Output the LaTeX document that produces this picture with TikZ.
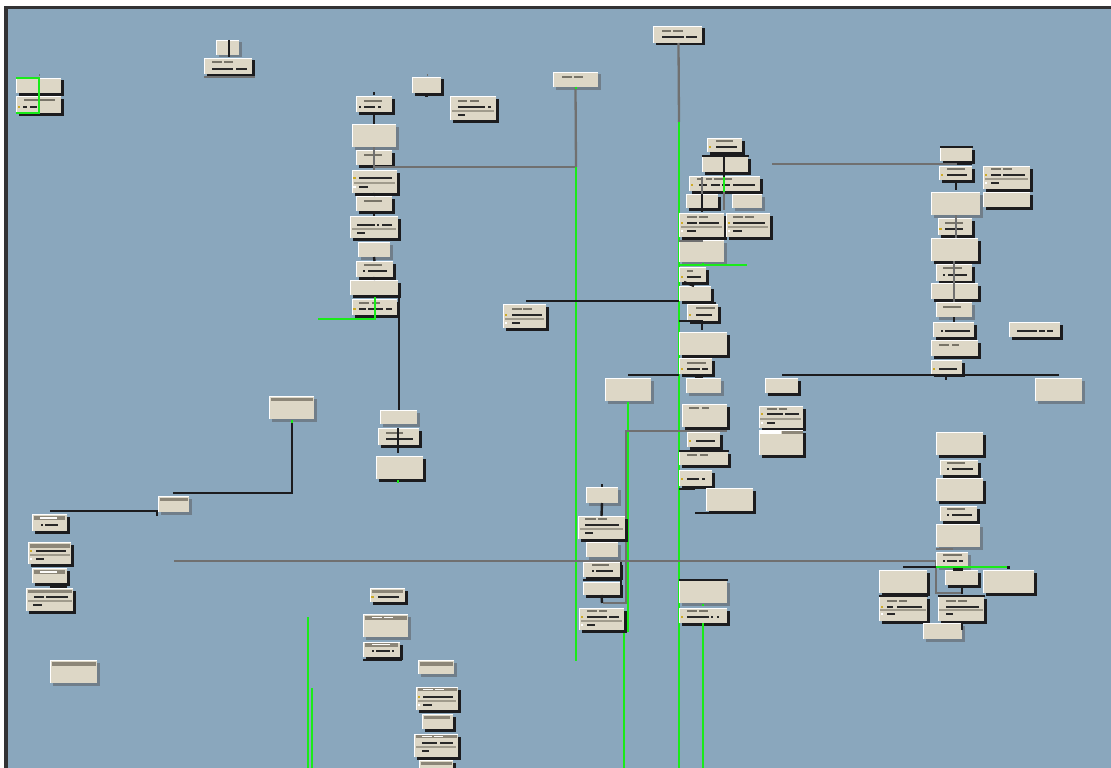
\documentclass[tikz,border=0pt]{standalone}
\definecolor{bgc}{RGB}{138,167,189}
\definecolor{beige}{RGB}{221,215,198}
\definecolor{shk}{RGB}{28,28,30}
\definecolor{shg}{RGB}{112,126,138}
\definecolor{frm}{RGB}{50,50,52}
\definecolor{gbar}{RGB}{120,116,104}
\definecolor{dbar}{RGB}{40,40,40}
\definecolor{lbar}{RGB}{160,155,140}
\definecolor{band}{RGB}{140,134,120}
\definecolor{ydot}{RGB}{205,170,40}
\definecolor{grn}{RGB}{25,235,25}
\definecolor{gln}{RGB}{112,112,112}
\tikzset{
  bxs/.style={fill=beige, draw=none, inner sep=0pt, outer sep=0pt},
  gl/.style={draw=gln, line width=2.3pt},
  kl/.style={draw=shk, line width=2.4pt},
  gr/.style={draw=grn, line width=2.4pt},
}
% box: [shadow]{name}{x1}{y1}{x2}{y2}
\newcommand{\Bx}[6][shk]{%
  \fill[#1] (#3+2.5,#4+2.5) rectangle (#5+2.5,#6+2.5);
  \node[bxs, anchor=north west, minimum width={#5-#3}, minimum height={#6-#4}] (#2) at (#3,#4) {};
  \draw[white, line width=1.3pt] (#3+0.6,#6) -- (#3+0.6,#4+0.6) -- (#5,#4+0.6);
}
\newcommand{\Gb}[3]{\fill[gbar] (#1,#3-1.2) rectangle (#2,#3+1.2);}
\newcommand{\Db}[3]{\fill[dbar] (#1,#3-1.4) rectangle (#2,#3+1.4);}
\newcommand{\Lb}[3]{\fill[lbar] (#1,#3-0.9) rectangle (#2,#3+0.9);}
\newcommand{\Yd}[2]{\fill[ydot] (#1-1.1,#2-1.1) rectangle (#1+1.1,#2+1.1);}
\newcommand{\Wd}[2]{\fill[white] (#1-1.1,#2-1.1) rectangle (#1+1.1,#2+1.1);}
\newcommand{\Bd}[4]{\fill[band] (#1,#2) rectangle (#3,#4);}
\newcommand{\Wb}[3]{\fill[white!90!beige] (#1,#3-0.9) rectangle (#2,#3+0.9);}
\begin{document}
\begin{tikzpicture}[x=1pt,y=-1pt]
\useasboundingbox (0,0) rectangle (1111,768);
\fill[white] (0,0) rectangle (1111,768);
\fill[bgc] (5,7) rectangle (1111,768);
\fill[frm] (4,6) rectangle (1111,9);
\fill[frm] (4,6) rectangle (8,768);

% ---------- top-left group
\Bx{A1}{16}{78}{61}{93}
\Bx{A2}{16}{96}{61}{113}
\Gb{24}{55}{100}\Yd{19}{107}\Db{23}{27}{107}\Db{30}{37}{107}
\fill[gln] (38.5,74) rectangle (40,76);
\draw[gr] (A1.north west) -- (39,78) -- (39,113) -- (A2.south west);

\Bx[shg]{B1}{216}{40}{239}{55}
\Bx{B2}{204}{58}{252}{74}
\Gb{212}{222}{62}\Gb{224}{233}{62}\Db{212}{233}{69}\Db{236}{247}{69}
\draw[kl] (229,40) -- (229,57);
\draw[gl] (B2.south west) ++(0,3) -- ++(51,0);

% ---------- column D
\Bx{C1}{412}{77}{441}{93}
\fill[gln] (426.5,74) rectangle (428,76);
\draw[kl] (C1.south) -- ++(0,4);
\Bx{C2}{450}{96}{496}{120}
\Gb{458}{467}{101}\Gb{470}{479}{101}\Db{458}{485}{107}\Db{488}{491}{107}\Lb{452}{494}{111}\Db{458}{465}{115}

\Bx{D1}{356}{96}{392}{112}
\fill[shk] (373,92) rectangle (375,95);
\Gb{364}{382}{101}\Db{359}{361}{107}\Db{364}{375}{107}\Db{378}{381}{107}
\Bx[shg]{D2}{352}{124}{396}{147}
\Bx{D3}{356}{150}{392}{165}
\Gb{364}{382}{155}
\Bx{D4}{352}{170}{397}{193}
\Yd{354.5}{178}\Db{359}{392}{178}\Lb{354}{395}{183}\Wd{354.5}{187}\Db{359}{368}{187}
\Bx{D5}{356}{196}{392}{211}
\Gb{364}{382}{201}
\Bx{D6}{350}{216}{398}{238}
\Db{357}{375}{225}\Db{377}{379}{225}\Db{382}{392}{225}\Lb{352}{396}{229}\Db{357}{365}{233}
\Bx[shg]{D7}{358}{242}{390}{257}
\Bx{D8}{356}{261}{393}{277}
\Gb{364}{382}{265}\Db{363}{365}{271}\Db{368}{387}{271}
\Bx{D9}{350}{280}{398}{295}
\Bx{D10}{352}{299}{397}{315}
\Gb{359}{369}{303}\Gb{372}{380}{303}\Yd{354.5}{309}\Db{359}{366}{309}\Db{368}{383}{309}\Db{386}{392}{309}
\draw[kl] (D1.south) -- (D2.north);
\draw[kl] (D4.south) -- (D5.north);
\draw[kl] (D5.south) -- (D6.north);
\draw[kl] (D7.south) -- (D8.north);
\draw[kl] (D8.south) -- (D9.north);
\draw[gl] (D2.south) -- (374,170);
\draw[kl] (399,283) -- (399,410);
\draw[gr] (375,297) -- (375,319) -- (318,319);

% ---------- E, F
\Bx[shg]{E1}{553}{72}{598}{87}
\Gb{562}{572}{77}\Gb{574}{583}{77}
\Bx{F1}{653}{26}{702}{43}
\Gb{662}{671}{31}\Gb{673}{683}{31}\Db{662}{684}{37}\Db{686}{697}{37}
\coordinate (e1) at (576,167);
\draw[gl] (E1.south) -- (e1);
\draw[gl] (374,167) -- (e1);
\draw[gr] (e1) -- (576,661);
\fill[grn] (575,87) rectangle (577,89);
\draw[gl] (F1.south) ++(1,0) -- (679,122);
\draw[gr] (679,122) -- (679,768);

% ---------- G group
\Bx{G1}{707}{138}{742}{152}
\Gb{716}{733}{141}\Yd{710}{147}\Db{716}{737}{147}
\Bx{G2}{702}{156}{748}{172}
\draw[shk, line width=1.8pt] (702,156) -- (749,156);
\Bx{G3}{689}{176}{760}{191}
\Gb{697}{702}{179}\Gb{706}{712}{179}\Gb{714}{732}{179}\Yd{692}{185}\Db{699}{707}{185}\Db{711}{720}{185}\Db{722}{730}{185}\Db{733}{755}{185}
\Bx{G4}{686}{194}{718}{208}
\Bx[shg]{G5}{732}{194}{762}{208}
\Bx{G6}{679}{213}{724}{237}
\Gb{687}{697}{217}\Gb{699}{708}{217}\Yd{682}{223}\Db{687}{697}{223}\Db{699}{719}{223}\Lb{681}{722}{227}\Wd{682}{231}\Db{687}{696}{231}
\Bx{G7}{726}{213}{770}{237}
\Gb{733}{743}{217}\Gb{745}{754}{217}\Yd{729}{223}\Db{733}{765}{223}\Lb{728}{768}{227}\Wd{729}{231}\Db{733}{742}{231}
\Bx[shg]{G8}{679}{240}{724}{262}
\fill[gln] (679,239.5) rectangle (703,241.5);
\Bx{G9}{679}{267}{706}{282}
\Gb{687}{693}{271}\Yd{682}{277}\Db{687}{701}{277}
\draw[kl] (G1.south) ++(-0.5,0) -- (724,177);
\draw[gr] (724,177) -- (724,192);
\draw[gl] (724,192) -- (724,210);
\draw[gl] (702,177) -- (702,194);
\draw[kl] (702,194) -- (702,212);
\draw[gr] (679,265) -- (747,265);
\fill[grn] (702,263) rectangle (704,265);

% ---------- K column
\Bx{K1}{679}{286}{711}{301}
\Bx{K2}{687}{304}{718}{321}
\Gb{696}{715}{308}\Yd{690}{315}\Db{696}{712}{315}
\Bx{K3}{679}{332}{727}{355}
\Bx{K4}{679}{358}{712}{374}
\Gb{687}{706}{363}\Yd{682}{369}\Db{687}{700}{369}\Db{702}{708}{369}
\Bx[shg]{K5}{686}{378}{721}{393}
\Bx{K6}{682}{404}{727}{427}
\Gb{689}{699}{408}\Gb{702}{709}{408}
\Bx{K7}{687}{432}{720}{447}
\Yd{690}{441}\Db{696}{715}{441}
\Bx{K8}{679}{451}{728}{465}
\draw[shk, line width=1.8pt] (679,451) -- (729,451);
\Gb{687}{697}{455}\Gb{700}{708}{455}
\Bx{K9}{679}{470}{712}{486}
\Yd{682}{479}\Db{687}{699}{479}\Db{702}{705}{479}
\Bx{K10}{706}{488}{753}{511}
\draw[kl] (G9.south) ++(-8.5,0) -- (694,286);
\draw[kl] (702,303) -- (716,303);
\draw[kl] (679,321) -- (702,321) -- (702,330);
\draw[kl] (526,301) -- (679,301);
\draw[kl] (628,375) -- (679,375);
\draw[kl] (695,377) -- (703,377);
\draw[kl] (679,489) -- (695,489);
\draw[kl] (695,513) -- (754,513);

\Bx{J1}{503}{304}{546}{328}
\Gb{512}{522}{309}\Gb{523}{532}{309}\Yd{506}{315}\Db{512}{542}{315}\Lb{505}{544}{319}\Wd{506}{323}\Db{512}{520}{323}

\Bx[shg]{L1}{605}{378}{651}{401}
\draw[gr] (628,402) -- (628,632);
\draw[gr] (624,632) -- (624,768);
\draw[gl] (727,431) -- (626,431) -- (626,603) -- (603,603);

% ---------- M column
\Bx[shg]{M1}{586}{487}{618}{503}
\fill[shk] (601,484) rectangle (603,486.5);
\Bx{M2}{578}{516}{625}{539}
\Gb{585}{596}{519}\Gb{598}{607}{519}\Db{585}{619}{525}\Lb{580}{623}{529}\Db{585}{593}{533}
\Bx[shg]{M3}{586}{542}{618}{557}
\Bx{M4}{583}{562}{620}{577}
\Gb{592}{609}{565}\Db{592}{594}{571}\Db{596}{613}{571}
\Bx{M5}{583}{582}{620}{595}
\Bx{M6}{579}{608}{624}{630}
\Gb{587}{597}{611}\Gb{599}{607}{611}\Yd{582}{617}\Db{587}{607}{617}\Db{609}{619}{617}\Lb{581}{622}{621}\Wd{582}{625}\Db{587}{595}{625}
\draw[kl] (M1.south) -- (M2.north);
\draw[kl] (583,580) -- (621,580);
\draw[kl] (621,562) -- (621,596);
\draw[kl] (M5.south) -- (602,603);

\Bx[shg]{R1}{679}{580}{727}{603}
\draw[shk, line width=1.8pt] (679,580) -- (728,580);
\Bx{R2}{679}{608}{727}{623}
\Gb{687}{697}{611}\Gb{699}{708}{611}\Yd{682}{617}\Db{687}{709}{617}\Db{711}{713}{617}\Db{717}{719}{617}
\fill[grn] (702,604) rectangle (704,606);
\draw[gr] (703,623) -- (703,768);

% ---------- H column
\Bx{H1}{940}{147}{972}{161}
\draw[shk, line width=1.8pt] (940,147) -- (973,147);
\Bx{H2}{939}{166}{972}{180}
\Gb{947}{965}{169}\Yd{942}{175}\Db{947}{967}{175}
\Bx{H16}{983}{166}{1030}{189}
\Gb{991}{1001}{169}\Gb{1003}{1012}{169}\Yd{986}{175}\Db{991}{1001}{175}\Db{1003}{1025}{175}\Lb{985}{1028}{179}\Wd{986}{183}\Db{991}{999}{183}
\Bx{H17}{983}{192}{1030}{207}
\Bx[shg]{H3}{931}{192}{980}{215}
\Bx{H4}{938}{218}{972}{235}
\Gb{945}{963}{223}\Yd{940.5}{229}\Db{945}{963}{229}
\Bx{H5}{931}{238}{978}{261}
\Bx{H6}{936}{264}{972}{281}
\Gb{943}{962}{268}\Db{943}{945}{275}\Db{948}{967}{275}
\Bx{H7}{931}{283}{978}{299}
\Bx[shg]{H8}{936}{302}{972}{317}
\Gb{943}{961}{307}
\Bx{H9}{933}{322}{974}{337}
\Db{941}{943}{331}\Db{945}{970}{331}
\Bx{H10}{1009}{322}{1060}{337}
\Db{1017}{1037}{331}\Db{1039}{1045}{331}\Db{1047}{1053}{331}
\Bx{H11}{931}{340}{978}{356}
\Gb{939}{949}{345}\Gb{952}{959}{345}
\Bx{H12}{931}{360}{962}{374}
\Yd{934}{369}\Db{939}{957}{369}
\Bx{H13}{765}{378}{798}{393}
\Bx[shg]{H14}{1035}{378}{1082}{401}
\draw[gl] (772,164) -- (957,164);
\draw[kl] (957,164) -- (972,164);
\draw[kl] (H2.south) ++(0.5,0) -- (956,190);
\draw[gl] (956,215) -- (956,238);
\draw[gl] (954,261) -- (954,302);
\draw[kl] (H8.south) ++(0,0) -- (954,322);
\draw[kl] (782,375) -- (1059,375);
\draw[kl] (946,375) -- (946,380);

\Bx{I1}{759}{406}{803}{428}
\Gb{767}{777}{409}\Gb{779}{787}{409}\Yd{762}{414}\Db{767}{783}{414}\Db{785}{799}{414}\Lb{760}{801}{419}\Wd{762}{423}\Db{767}{775}{423}
\Bx{I2}{759}{430}{803}{455}
\fill[white] (760,431) rectangle (781,433.5);
\fill[band] (782,430.5) rectangle (803,434);

% ---------- lower-left
\Bx[shg]{N1}{269}{396}{314}{419}
\Bd{271}{398}{313}{401}
\Bx[shg]{N2}{158}{496}{189}{512}
\Bd{160}{498}{188}{501}
\fill[grn] (291,420) rectangle (293,423);
\draw[kl] (292,423) -- (292,493) -- (173,493);
\draw[kl] (50,511) -- (157,511) -- (157,516);
\Bx{N3}{32}{514}{67}{531}
\Bd{34}{516}{65}{519.5}\Wb{40}{57}{518}\Db{41}{43}{525}\Db{45}{58}{525}
\Bx{N4}{28}{542}{71}{564}
\Bd{30}{544}{70}{547.5}\Yd{31}{551}\Db{36}{66}{551}\Lb{30}{70}{555}\Wd{31}{559}\Db{36}{44}{559}
\Bx{N5}{32}{568}{67}{583}
\Bd{34}{570}{65}{573.5}\Wb{40}{57}{572}
\draw[kl] (50,587) -- (67,587);
\Bx{N6}{26}{588}{73}{611}
\Bd{28}{590}{72}{593}\Db{34}{44}{597}\Db{46}{68}{597}\Lb{28}{72}{601}\Db{33}{42}{605}
\Bx[shg]{Z1}{50}{660}{97}{683}
\Bd{52}{662}{96}{666}

\draw[gl] (174,561) -- (936,561) -- (936,593) -- (962,593);

\Bx[shg]{O1}{380}{410}{417}{424}
\Bx{O2}{378}{428}{419}{445}
\Gb{386}{403}{433}\Db{386}{413}{439}
\Bx{O3}{376}{456}{423}{479}
\draw[kl] (398,428) -- (398,453);
\fill[grn] (397,480) rectangle (399,483);

\Bx{P1}{370}{588}{405}{602}
\Bd{372}{590}{403}{593}\Yd{372.5}{597}\Db{378}{399}{597}
\Bx[shg]{P2}{363}{614}{408}{637}
\Bd{365}{616}{407}{619.5}\Wb{372}{382}{617.5}\Wb{384}{393}{617.5}
\Bx{P3}{363}{642}{400}{657}
\Bd{365}{643}{398}{646.5}\Wb{372}{390}{644.5}\Db{372}{374}{651}\Db{376}{390}{651}\Db{392}{394}{651}
\draw[kl] (363,660) -- (402,660);
\draw[kl] (382,657) -- (382,660);
\draw[gr] (308,617) -- (308,768);
\draw[gr] (312,688) -- (312,768);

\Bx[shg]{Q1}{418}{660}{454}{674}
\Bd{420}{662}{453}{665.5}
\Bx{Q2}{416}{687}{458}{710}
\Bd{418}{688}{457}{691}\Wb{423}{433}{689.5}\Wb{435}{444}{689.5}\Yd{419}{697}\Db{423}{453}{697}\Lb{418}{456}{701}\Wd{419}{705}\Db{423}{432}{705}
\Bx{Q3}{422}{714}{453}{729}
\Bd{424}{716}{450}{719}
\Bx{Q4}{414}{734}{458}{757}
\Bd{416}{735}{457}{738}\Wb{422}{432}{736.5}\Wb{434}{443}{736.5}\Db{422}{437}{743}\Db{440}{453}{743}\Lb{416}{456}{747}\Db{422}{429}{751}
\Bx{Q5}{419}{760}{453}{778}
\Bd{421}{762}{452}{765}

% ---------- S column
\Bx{S1}{936}{432}{983}{455}
\Bx{S2}{940}{460}{978}{475}
\Gb{947}{965}{463}\Db{947}{949}{469}\Db{952}{973}{469}
\Bx{S3}{936}{478}{983}{501}
\Bx{S4}{940}{506}{977}{521}
\Gb{947}{965}{509}\Db{947}{949}{515}\Db{952}{972}{515}
\Bx[shg]{S5}{936}{524}{980}{547}
\draw[gl] (936,549) -- (953,549);
\Bx[shg]{S6}{936}{552}{968}{567}
\Gb{943}{962}{555}\Db{943}{945}{561}\Db{947}{957}{561}\Db{959}{963}{561}
\Bx{S7}{879}{570}{927}{593}
\Bx{S8}{945}{570}{978}{585}
\Bx{S9}{983}{570}{1034}{593}
\Bx{S10}{879}{596}{927}{621}
\draw[shk, line width=1.8pt] (879,596) -- (928,596);
\Gb{887}{897}{601}\Gb{899}{907}{601}\Yd{882}{607}\Db{887}{893}{607}\Db{897}{922}{607}\Lb{880}{926}{610}\Wd{882}{614}\Db{887}{895}{614}
\Bx{S11}{938}{596}{984}{621}
\draw[shk, line width=1.8pt] (938,596) -- (985,596);
\Gb{946}{956}{601}\Gb{958}{967}{601}\Db{946}{979}{607}\Lb{939}{983}{610}\Db{946}{953}{614}
\Bx[shg]{S12}{923}{623}{962}{639}
\draw[kl] (903,567) -- (936,567);
\draw[gr] (936,567) -- (1008,567);
\fill[shk] (1007,566) rectangle (1010,568.5);
\draw[shk, line width=3pt] (953,569.5) -- (963,569.5);
\draw[kl] (962,585) -- (962,594);
\draw[kl] (962,621) -- (962,630);
\end{tikzpicture}
\end{document}
